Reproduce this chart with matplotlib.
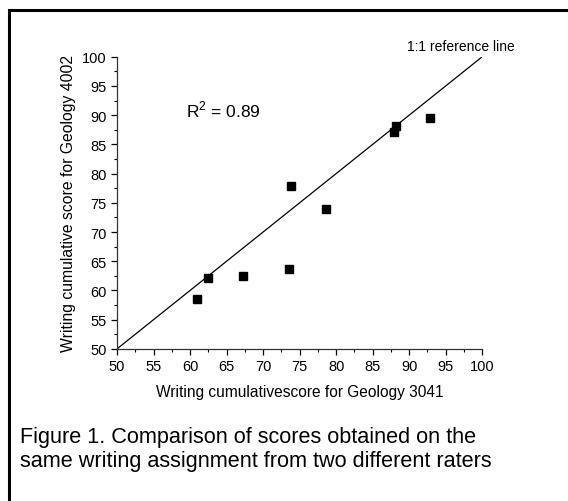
import matplotlib
matplotlib.use("Agg")
import matplotlib.pyplot as plt
from matplotlib.patches import Rectangle
from matplotlib.ticker import MultipleLocator

plt.rcParams['font.family'] = ['Liberation Sans', 'DejaVu Sans']
plt.rcParams['mathtext.fontset'] = 'custom'
plt.rcParams['mathtext.rm'] = 'Liberation Sans'

# scores des deux correcteurs
geol_3041 = [61.0, 62.4, 67.2, 73.5, 73.8, 78.6, 87.9, 88.2, 92.8]
geol_4002 = [58.5, 62.1, 62.5, 63.6, 77.8, 73.9, 87.2, 88.1, 89.5]
ligne_ref = [50, 100]
r_carre = 0.89

fig = plt.figure(figsize=(5.68, 5.02), dpi=100)
ax = fig.add_axes([0.206, 0.303, 0.643, 0.582])

ax.plot(ligne_ref, ligne_ref, color="black", lw=0.9)
ax.plot(geol_3041, geol_4002, "s", color="black", ms=5.5, ls="none")

ax.set_xlim(50, 100)
ax.set_ylim(50, 100)
ax.xaxis.set_major_locator(MultipleLocator(5))
ax.yaxis.set_major_locator(MultipleLocator(5))
ax.xaxis.set_minor_locator(MultipleLocator(2.5))
ax.yaxis.set_minor_locator(MultipleLocator(2.5))
ax.tick_params(which="major", direction="out", length=4, width=0.9, labelsize=10.5, pad=3.5)
ax.tick_params(which="minor", direction="out", length=2.5, width=0.8)
ax.spines["top"].set_visible(False)
ax.spines["right"].set_visible(False)
for s in ["left", "bottom"]:
    ax.spines[s].set_linewidth(0.9)
    ax.spines[s].set_color("#333333")

ax.set_xlabel("Writing cumulativescore for Geology 3041", fontsize=11.2, labelpad=8)
ax.set_ylabel("Writing cumulative score for Geology 4002", fontsize=11.3, labelpad=4)

ax.text(59.4, 91.1, r"R$^\mathrm{2}$ = %.2f" % r_carre, fontsize=12.5, va="center")
ax.text(89.7, 101.9, "1:1 reference line", fontsize=10, va="center", clip_on=False)

# légende de la figure
fig.text(0.036, 0.104, "Figure 1. Comparison of scores obtained on the\n"
         "same writing assignment from two different raters",
         fontsize=15.6, va="center", linespacing=1.2)

# cadre noir autour de la figure
fig.patches.append(Rectangle((9 / 568, -0.1), 1.2, 1 - 10.5 / 502 + 0.1,
                             transform=fig.transFigure, fill=False,
                             edgecolor="black", lw=2.2))

fig.savefig("out.png", dpi=100)
